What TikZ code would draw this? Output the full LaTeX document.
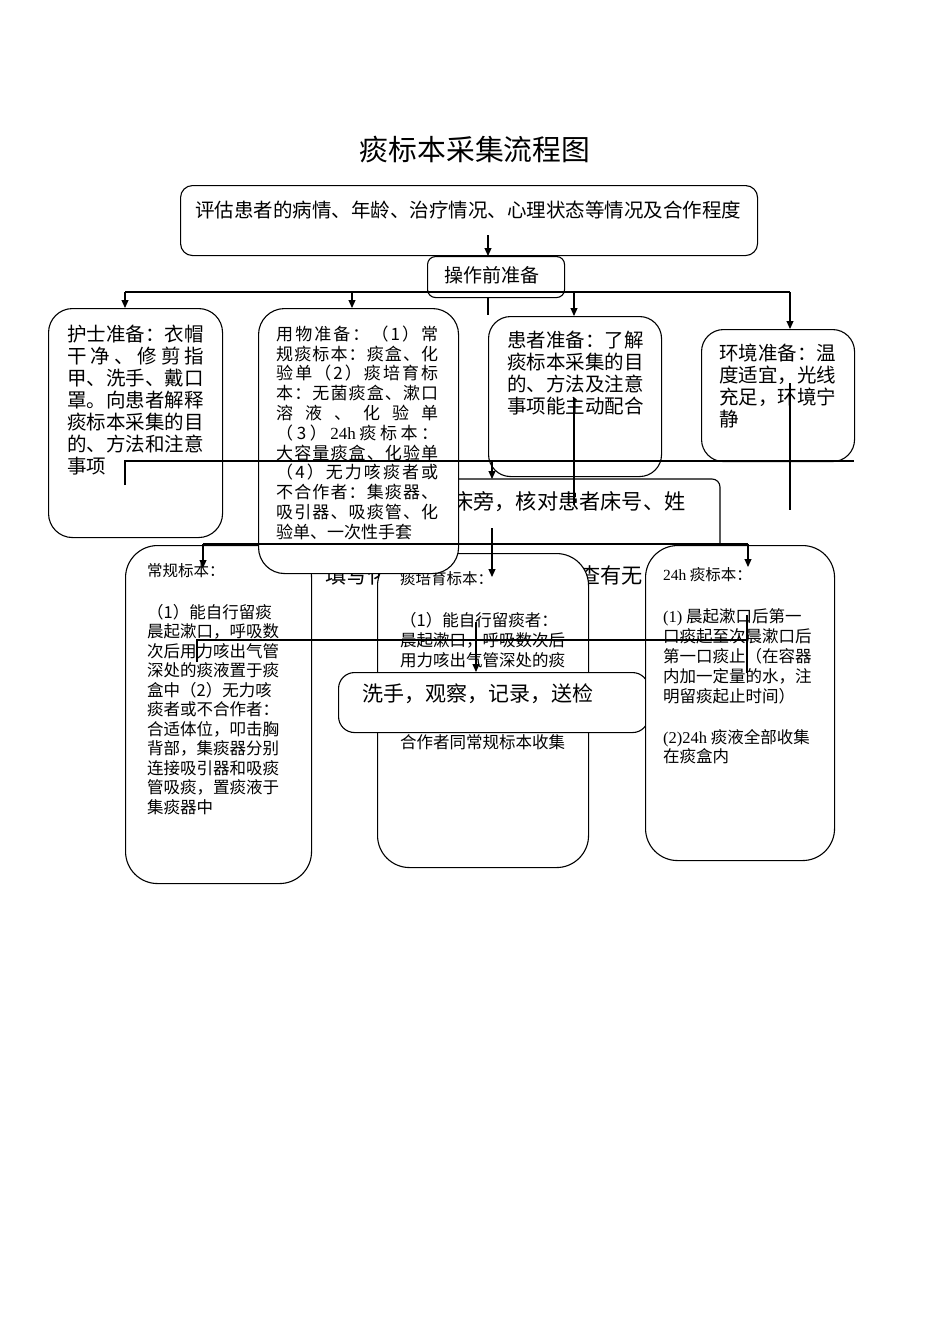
\documentclass[tikz,border=0pt]{standalone}
\usepackage{fontspec}
\setmainfont{Liberation Serif}
\newfontfamily\cjk{Noto Sans CJK SC}
\usetikzlibrary{arrows.meta}
\newcommand\fsz[2]{\fontsize{#1}{#2}\selectfont}
\newdimen\sprw
\makeatletter
\def\spr#1{\hbox to \sprw{\spr@a#1\@nil}}
\def\spr@a#1{{#1}\spr@b}
\def\spr@b#1{\ifx\@nil#1\else\hfill{#1}\expandafter\spr@b\fi}
\makeatother
\tikzset{
  box/.style={draw, line width=1.1pt, fill=white, inner sep=0pt, anchor=north west},
  txt/.style={inner sep=0pt, align=left, anchor=north west},
  conn/.style={line width=1.1pt},
  arr/.style={line width=1.1pt, -{Triangle[length=8pt,width=7pt]}}
}
\begin{document}
\begin{tikzpicture}[x=1pt,y=-1pt]
\fill[white] (0,0) rectangle (950,1344);
\useasboundingbox (0,0) rectangle (950,1344);

% title
\node[inner sep=0pt, font=\cjk\fsz{28.8}{32}] (title) at (475,150) {痰标本采集流程图};

% top box
\node[box, rounded corners=12pt, minimum width=577pt, minimum height=70pt] (assess) at (180,185) {};
\node[inner sep=0pt, anchor=west, font=\cjk\fsz{19.5}{24}] (assesst) at (195,210) {评估患者的病情、年龄、治疗情况、心理状态等情况及合作程度};

% prep box
\node[box, rounded corners=8pt, minimum width=137pt, minimum height=41pt] (prep) at (427,256) {};
\node[inner sep=0pt, font=\cjk\fsz{19}{22}] (prept) at (492,275) {操作前准备};

% nurse box
\node[box, rounded corners=24pt, minimum width=174pt, minimum height=229pt] (nurse) at (48,308) {};
\node[txt, font=\cjk\fsz{19.5}{22}] (nurset) at (67,324.5) {护士准备：衣帽\\
\hbox to 137pt{干\hfill 净\hfill 、\hfill 修\hfill 剪\hfill 指}\\
甲、洗手、戴口\\
罩。向患者解释\\
痰标本采集的目\\
的、方法和注意\\
事项};

% patient box
\node[box, rounded corners=22pt, minimum width=173pt, minimum height=160pt] (patient) at (488,316) {};
\node[txt, font=\cjk\fsz{19.5}{22}] (patientt) at (507,330.5) {患者准备：了解\\
痰标本采集的目\\
的、方法及注意\\
事项能主动配合};

% environment box
\node[box, rounded corners=22pt, minimum width=153pt, minimum height=132pt] (env) at (701,329) {};
\node[txt, font=\cjk\fsz{19.5}{22}] (envt) at (719,343.5) {环境准备：温\\
度适宜，光线\\
充足，环境宁\\
静};

% bedside box (partly hidden)
\draw[conn, rounded corners=8pt] (300,479) coordinate (bedL) -- (720,479) -- (720,620) coordinate (bedR);
\node[inner sep=0pt, anchor=west, font=\cjk\fsz{21.2}{24}] (bed1) at (452,502) {床旁，核对患者床号、姓};
\node[inner sep=0pt, anchor=west, font=\cjk\fsz{21.2}{24}] (bed2) at (325,575) {填写化};
\node[inner sep=0pt, anchor=west, font=\cjk\fsz{21.2}{24}] (bed3) at (579,575) {查有无};

% routine specimen box
\node[box, rounded corners=32pt, minimum width=186pt, minimum height=338pt] (routine) at (125,545) {};
\node[inner sep=0pt, anchor=west, font=\cjk\fsz{15.5}{18}] (routineh) at (147,571) {常规标本：};
\node[txt, font=\cjk\fsz{16.5}{19.5}] (routinet) at (147,603.8) {（1）能自行留痰\\
晨起漱口，呼吸数\\
次后用力咳出气管\\
深处的痰液置于痰\\
盒中（2）无力咳\\
痰者或不合作者：\\
合适体位，叩击胸\\
背部，集痰器分别\\
连接吸引器和吸痰\\
管吸痰，置痰液于\\
集痰器中};

% culture specimen box
\node[box, rounded corners=32pt, minimum width=211pt, minimum height=314pt] (culture) at (377,553) {};
\node[inner sep=0pt, anchor=west, font=\cjk\fsz{15.5}{18}] (cultureh) at (400,579) {痰培育标本：};
\node[txt, font=\cjk\fsz{16.5}{20}] (culturet) at (400,611.8) {（1）能自行留痰者：\\
晨起漱口，呼吸数次后\\
用力咳出气管深处的痰};
\node[inner sep=0pt, anchor=west, font=\cjk\fsz{16.5}{20}] (culturet2) at (400,742) {合作者同常规标本收集};

% materials box
\node[box, rounded corners=26pt, minimum width=200pt, minimum height=265pt] (mat) at (258,308) {};
\sprw=162pt
\node[txt, font=\cjk\fsz{17}{19.8}] (matt) at (276,325.5) {\spr{用物准备：（1）常}\\
\spr{规痰标本：痰盒、化}\\
\spr{验单（2）痰培育标}\\
\spr{本：无菌痰盒、漱口}\\
\spr{溶液、化验单}\\
\spr{（3）{\rmfamily 24h}痰标本：}\\
\spr{大容量痰盒、化验单}\\
\spr{（4）无力咳痰者或}\\
\spr{不合作者：集痰器、}\\
\spr{吸引器、吸痰管、化}\\
验单、一次性手套};

% wash box
\node[box, rounded corners=16pt, minimum width=310pt, minimum height=60pt] (wash) at (338,672) {};
\node[inner sep=0pt, anchor=west, font=\cjk\fsz{21}{24}] (washt) at (362,694) {洗手，观察，记录，送检};

% 24h box
\node[box, rounded corners=32pt, minimum width=189pt, minimum height=315pt] (day) at (645,545) {};
\node[inner sep=0pt, anchor=west, font=\cjk\fsz{15.5}{18}] (dayh) at (663,575) {{\rmfamily 24h} 痰标本：};
\node[txt, font=\cjk\fsz{16.5}{19.8}] (dayt) at (663,608.8) {{\rmfamily (1)} 晨起漱口后第一\\
口痰起至次晨漱口后\\
第一口痰止（在容器\\
内加一定量的水，注\\
明留痰起止时间）};
\node[txt, font=\cjk\fsz{16.5}{19.8}] (dayt2) at (663,728.8) {{\rmfamily (2)24h} 痰液全部收集\\
在痰盒内};

% connectors
\coordinate (a0) at (488,235);
\draw[arr] (a0) -- (a0 |- prep.north);
\coordinate (s0) at (488,315);
\draw[conn] (s0 |- prep.south) -- (s0);
\coordinate (t0) at (125,292);
\coordinate (t1) at (352,292);
\coordinate (t2) at (574,292);
\coordinate (t3) at (790,292);
\draw[conn] (t0) -- (t3);
\draw[arr] (t0) -- (t0 |- nurse.north);
\draw[arr] (t1) -- (t1 |- mat.north);
\draw[arr] (t2) -- (t2 |- patient.north);
\draw[arr] (t3) -- (t3 |- env.north);

\coordinate (h0) at (125,485);
\coordinate (h1) at (125,461);
\coordinate (h2) at (854,461);
\draw[conn] (h0) -- (h1) -- (h2);
\coordinate (h3) at (492,461);
\draw[arr] (h3) -- (h3 |- bedL);

\coordinate (v0) at (574,398);
\coordinate (v1) at (574,505);
\draw[conn] (v0) -- (v1);
\coordinate (v2) at (790,383);
\coordinate (v3) at (790,510);
\draw[conn] (v2) -- (v3);

\coordinate (k0) at (203,544);
\coordinate (k1) at (748,544);
\draw[conn] (k0) -- (k1);
\draw[arr] (k0) -- ++(0,24) coordinate (k0e);
\draw[arr] (k1) -- ++(0,23) coordinate (k1e);
\coordinate (k2) at (492,528);
\coordinate (k3) at (492,577);
\draw[arr] (k2) -- (k3);

\coordinate (m0) at (197,662);
\coordinate (m1) at (197,640);
\coordinate (m2) at (747,640);
\draw[conn] (m0) -- (m1) -- (m2);
\coordinate (m3) at (747,615);
\coordinate (m4) at (747,673);
\draw[conn] (m3) -- (m4);
\coordinate (n0) at (476,622);
\draw[arr] (n0) -- (n0 |- wash.north);
\end{tikzpicture}
\end{document}
